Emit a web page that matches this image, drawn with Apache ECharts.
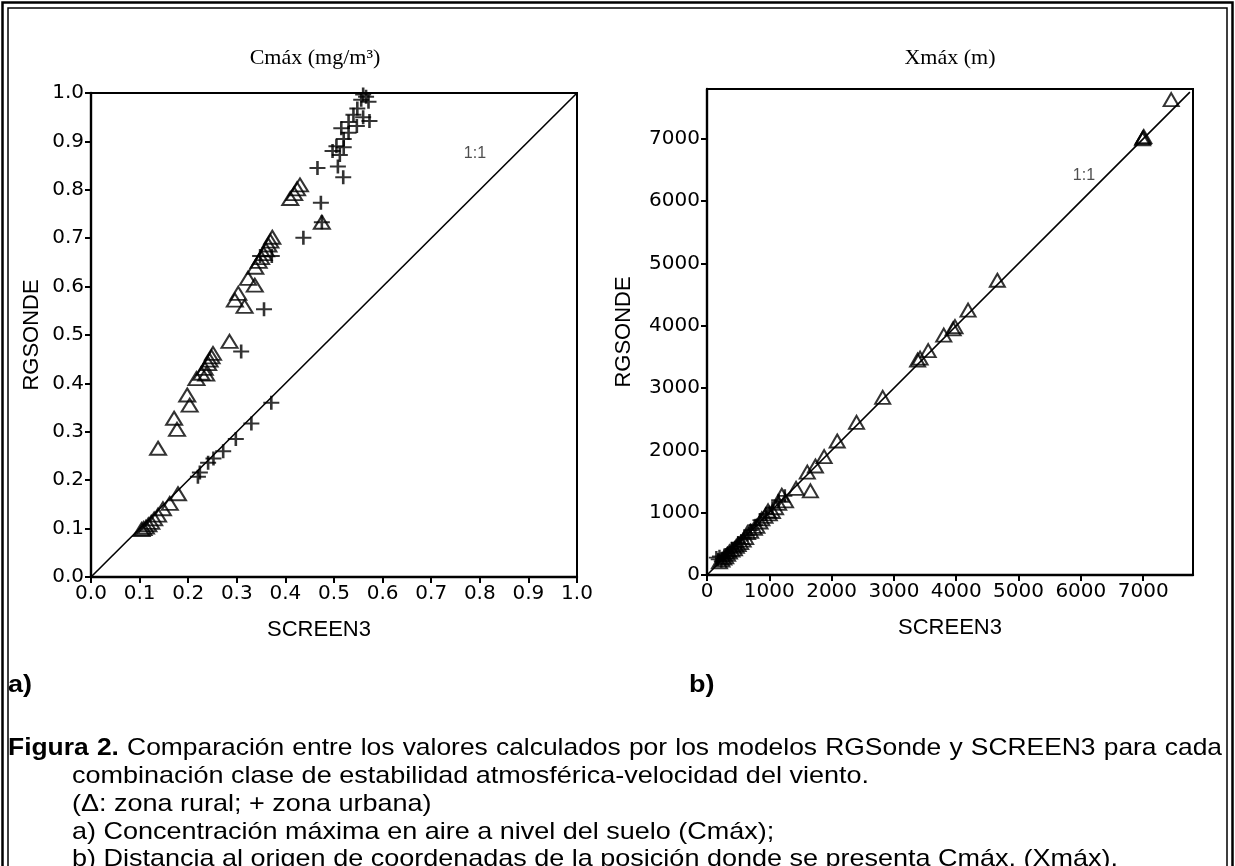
<!DOCTYPE html>
<html>
<head>
<meta charset="utf-8">
<script src="https://cdn.jsdelivr.net/npm/echarts@6/dist/echarts.min.js"></script>
<style>
  html, body { margin: 0; padding: 0; background: #fff; }
  #chart { width: 1235px; height: 866px; }
</style>
</head>
<body>
<div id="chart"></div>
<script>
// a) Cmáx (mg/m³): [SCREEN3, RGSONDE]
const ruralCmax = [
  [0.430, 0.810], [0.424, 0.802], [0.418, 0.792], [0.410, 0.782],
  [0.475, 0.733],
  [0.373, 0.702], [0.369, 0.694], [0.365, 0.686], [0.360, 0.676], [0.355, 0.668],
  [0.350, 0.660], [0.345, 0.652], [0.338, 0.640],
  [0.323, 0.617], [0.337, 0.603],
  [0.303, 0.586], [0.296, 0.572], [0.316, 0.559],
  [0.285, 0.487],
  [0.251, 0.462], [0.248, 0.455], [0.244, 0.448], [0.241, 0.441], [0.234, 0.431],
  [0.227, 0.421], [0.237, 0.419], [0.217, 0.410],
  [0.198, 0.376], [0.203, 0.355], [0.171, 0.328], [0.177, 0.305], [0.138, 0.266],
  [0.179, 0.172], [0.162, 0.152], [0.148, 0.141], [0.138, 0.128], [0.130, 0.120],
  [0.124, 0.113], [0.118, 0.108], [0.113, 0.103], [0.108, 0.100], [0.104, 0.098]
];
const urbanCmax = [
  [0.560, 0.997], [0.566, 0.992], [0.556, 0.986], [0.571, 0.982], [0.548, 0.968],
  [0.540, 0.955], [0.560, 0.950], [0.573, 0.942], [0.530, 0.940], [0.547, 0.932],
  [0.515, 0.927], [0.530, 0.918], [0.520, 0.905], [0.505, 0.890], [0.520, 0.888],
  [0.497, 0.880], [0.512, 0.872], [0.508, 0.848], [0.466, 0.845], [0.519, 0.826],
  [0.473, 0.773], [0.475, 0.733], [0.437, 0.701], [0.348, 0.663], [0.372, 0.663],
  [0.356, 0.553], [0.309, 0.466],
  [0.371, 0.360], [0.330, 0.317], [0.298, 0.285], [0.272, 0.260], [0.252, 0.245],
  [0.241, 0.236], [0.224, 0.216], [0.220, 0.207]
];
const lineCmax = [[0, 0], [1, 1]];
const labelCmax = [[0.79, 0.875]];

// b) Xmáx (m): [SCREEN3, RGSONDE]
const ruralXmax = [
  [7450, 7630], [7000, 7020], [6990, 7000], [7010, 7035], [4660, 4730], [4190, 4250],
  [3980, 3985], [3950, 3950], [3800, 3850], [3550, 3600], [3420, 3480], [3380, 3450],
  [2820, 2850], [2400, 2450], [2090, 2150], [1880, 1900], [1740, 1750], [1610, 1650],
  [1660, 1350], [1430, 1390], [1260, 1190], [1200, 1280], [1150, 1150], [1100, 1080],
  [1050, 1020], [1000, 980], [980, 1030], [930, 940], [880, 900], [850, 850],
  [800, 780], [760, 750], [700, 700], [650, 680], [620, 600], [580, 560],
  [540, 520], [500, 490], [470, 460], [440, 420], [400, 400], [360, 370],
  [330, 330], [300, 290], [270, 270], [240, 240], [200, 210]
];
const urbanXmax = [
  [150, 280], [180, 250], [200, 300], [230, 220], [250, 270], [280, 320], [300, 260],
  [330, 350], [360, 300], [400, 420], [430, 380], [470, 450], [500, 520], [550, 500],
  [600, 600], [650, 640], [700, 720], [780, 800], [850, 880], [950, 980],
  [1050, 1080], [1150, 1200], [1250, 1270]
];
const lineXmax = [[0, 0], [7750, 7750]];
const labelXmax = [[6050, 6410]];

const ticksXmax = [0, 1000, 2000, 3000, 4000, 5000, 6000, 7000];

const captionLine1 = [
  ["Figura", true], ["2.", true], ["Comparación"], ["entre"], ["los"], ["valores"],
  ["calculados"], ["por"], ["los"], ["modelos"], ["RGSonde"], ["y"], ["SCREEN3"],
  ["para"], ["cada"]
];
const captionRest = [
  "combinación clase de estabilidad atmosférica-velocidad del viento.",
  "(Δ: zona rural; + zona urbana)",
  "a) Concentración máxima en aire a nivel del suelo (Cmáx);",
  "b) Distancia al origen de coordenadas de la posición donde se presenta Cmáx, (Xmáx)."
];

const sans = '"Liberation Sans", Arial, sans-serif';
const tickFont = '"DejaVu Sans", sans-serif';
const crossPath = "path://M0,6 L16,6 L16,8 L0,8 Z M6.7,0 L9.3,0 L9.3,14 L6.7,14 Z";

// caption text is a bit wider than plain Arial in the scan
const capSize = 24;
const capStretch1 = 1.1;
const capStretch = 1.125;
const capX0 = 8, capX1 = 1222;
const capY = [748, 776, 804, 832, 859];

const justifyLine = (words, y) => {
  const ctx = document.createElement("canvas").getContext("2d");
  const fontOf = (b) => (b ? "bold " : "") + capSize + "px " + sans;
  let total = 0;
  const widths = words.map(([t, b]) => {
    ctx.font = fontOf(b);
    const w = ctx.measureText(t).width * capStretch1;
    total += w;
    return w;
  });
  const gap = (capX1 - capX0 - total) / (words.length - 1);
  let x = capX0;
  return words.map(([t, b], i) => {
    const el = {
      type: "text", x: x, y: y, scaleX: capStretch1, silent: true,
      style: { text: t, font: fontOf(b), fill: "#000", textVerticalAlign: "middle", verticalAlign: "middle" }
    };
    x += widths[i] + gap;
    return el;
  });
};

const axisCommon = {
  axisLine: { show: true, onZero: false, lineStyle: { color: "#000", width: 2.4 } },
  axisTick: { show: true, inside: false, length: 6, lineStyle: { color: "#000", width: 2 } },
  splitLine: { show: false },
  nameLocation: "middle",
  nameTextStyle: { color: "#000", fontFamily: sans, fontSize: 22 }
};

const tickLabel = { color: "#000", fontFamily: tickFont, fontSize: 20, margin: 7 };

const getOption = () => {
  const graphics = [
    { type: "rect", silent: true, shape: { x: 2.5, y: 2.5, width: 1230, height: 900 },
      style: { fill: "none", stroke: "#000", lineWidth: 2.5 } },
    { type: "rect", silent: true, shape: { x: 8, y: 8, width: 1219, height: 900 },
      style: { fill: "none", stroke: "#000", lineWidth: 1.5 } },
    { type: "text", x: 315, y: 58, silent: true,
      style: { text: "Cmáx (mg/m³)", font: '22px "Liberation Serif", "Times New Roman", serif', fill: "#000",
        textAlign: "center", align: "center", textVerticalAlign: "middle", verticalAlign: "middle" } },
    { type: "text", x: 950, y: 58, silent: true,
      style: { text: "Xmáx (m)", font: '22px "Liberation Serif", "Times New Roman", serif', fill: "#000",
        textAlign: "center", align: "center", textVerticalAlign: "middle", verticalAlign: "middle" } },
    { type: "text", x: 8, y: 685, scaleX: capStretch, silent: true,
      style: { text: "a)", font: "bold 24px " + sans, fill: "#000", textVerticalAlign: "middle", verticalAlign: "middle" } },
    { type: "text", x: 689, y: 685, scaleX: capStretch, silent: true,
      style: { text: "b)", font: "bold 24px " + sans, fill: "#000", textVerticalAlign: "middle", verticalAlign: "middle" } }
  ].concat(justifyLine(captionLine1, capY[0]));

  captionRest.forEach((t, i) => {
    graphics.push({
      type: "text", x: 72, y: capY[i + 1], scaleX: capStretch, silent: true,
      style: { text: t, font: capSize + "px " + sans, fill: "#000", textVerticalAlign: "middle", verticalAlign: "middle" }
    });
  });

  return {
    animation: false,
    backgroundColor: "#fff",
    grid: [
      { left: 91, width: 486, top: 93, height: 484, show: true, borderColor: "#000", borderWidth: 2, containLabel: false },
      { left: 707, width: 486, top: 89, height: 486, show: true, borderColor: "#000", borderWidth: 2, containLabel: false }
    ],
    xAxis: [
      Object.assign({}, axisCommon, {
        type: "value", gridIndex: 0, min: 0, max: 1, interval: 0.1, name: "SCREEN3", nameGap: 42,
        nameTextStyle: Object.assign({}, axisCommon.nameTextStyle, { padding: [0, 30, 0, 0] }),
        axisLabel: Object.assign({}, tickLabel, { formatter: (v) => v.toFixed(1) })
      }),
      Object.assign({}, axisCommon, {
        type: "value", gridIndex: 1, min: 0, max: 7800, interval: 1000, name: "SCREEN3", nameGap: 42,
        axisTick: Object.assign({}, axisCommon.axisTick, { customValues: ticksXmax }),
        axisLabel: Object.assign({}, tickLabel, { customValues: ticksXmax, formatter: (v) => String(v) })
      })
    ],
    yAxis: [
      Object.assign({}, axisCommon, {
        type: "value", gridIndex: 0, min: 0, max: 1, interval: 0.1, name: "RGSONDE", nameGap: 48,
        axisLabel: Object.assign({}, tickLabel, { formatter: (v) => v.toFixed(1) })
      }),
      Object.assign({}, axisCommon, {
        type: "value", gridIndex: 1, min: 0, max: 7800, interval: 1000, name: "RGSONDE", nameGap: 72,
        axisTick: Object.assign({}, axisCommon.axisTick, { customValues: ticksXmax }),
        axisLabel: Object.assign({}, tickLabel, { customValues: ticksXmax, formatter: (v) => String(v) })
      })
    ],
    series: [
      { type: "line", xAxisIndex: 0, yAxisIndex: 0, data: lineCmax, symbol: "none", silent: true,
        lineStyle: { color: "#000", width: 1.6 } },
      { type: "scatter", xAxisIndex: 0, yAxisIndex: 0, data: ruralCmax, symbol: "triangle", symbolSize: [16, 13],
        itemStyle: { color: "rgba(0,0,0,0)", borderColor: "#000", borderWidth: 2 } },
      { type: "scatter", xAxisIndex: 0, yAxisIndex: 0, data: urbanCmax, symbol: crossPath, symbolSize: [16, 14],
        itemStyle: { color: "#000" } },
      { type: "scatter", xAxisIndex: 0, yAxisIndex: 0, data: labelCmax, symbolSize: 1, silent: true,
        itemStyle: { color: "rgba(0,0,0,0)" },
        label: { show: true, position: "inside", formatter: "1:1", color: "#222", fontFamily: sans, fontSize: 16 } },

      { type: "line", xAxisIndex: 1, yAxisIndex: 1, data: lineXmax, symbol: "none", silent: true,
        lineStyle: { color: "#000", width: 1.6 } },
      { type: "scatter", xAxisIndex: 1, yAxisIndex: 1, data: ruralXmax, symbol: "triangle", symbolSize: [15, 13],
        itemStyle: { color: "rgba(0,0,0,0)", borderColor: "#000", borderWidth: 2 } },
      { type: "scatter", xAxisIndex: 1, yAxisIndex: 1, data: urbanXmax, symbol: crossPath, symbolSize: [15, 13],
        itemStyle: { color: "#000" } },
      { type: "scatter", xAxisIndex: 1, yAxisIndex: 1, data: labelXmax, symbolSize: 1, silent: true,
        itemStyle: { color: "rgba(0,0,0,0)" },
        label: { show: true, position: "inside", formatter: "1:1", color: "#222", fontFamily: sans, fontSize: 16 } }
    ],
    graphic: graphics
  };
};

const initChart = () => {
  const chart = echarts.init(document.getElementById("chart"), null, { renderer: "canvas" });
  chart.setOption(getOption());
};

window.addEventListener("load", () => {
  initChart();
});
</script>
</body>
</html>
